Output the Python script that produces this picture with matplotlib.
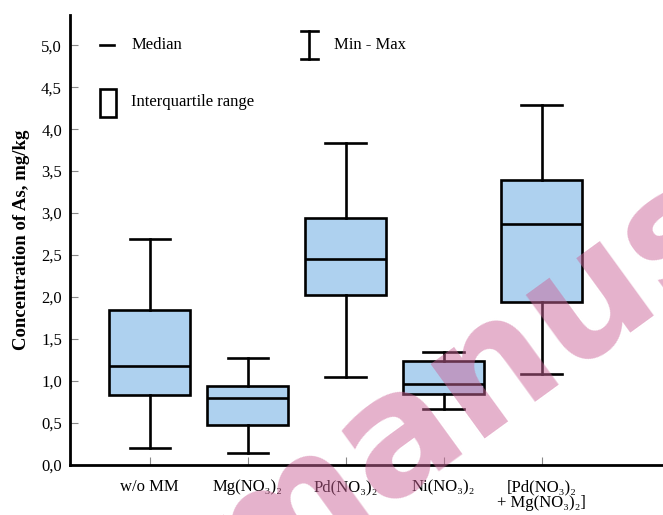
import numpy as np
import matplotlib
matplotlib.use("Agg")
from matplotlib import pyplot as plt
from matplotlib.patches import Rectangle

categories = ['w/o MM', 'Mg(NO₃)₂', 'Pd(NO₃)₂', 'Ni(NO₃)₂',
              '[Pd(NO₃)₂\n+ Mg(NO₃)₂]']
mins = [0.20, 0.14, 1.05, 0.67, 1.08]
q1 = [0.83, 0.48, 2.02, 0.85, 1.94]
medians = [1.18, 0.80, 2.45, 0.96, 2.87]
q3 = [1.85, 0.94, 2.94, 1.24, 3.40]
maxs = [2.69, 1.27, 3.83, 1.35, 4.29]
yticks = [0, 0.5, 1.0, 1.5, 2.0, 2.5, 3.0, 3.5, 4.0, 4.5, 5.0]

plt.rcParams['font.family'] = ['Liberation Serif', 'DejaVu Serif']

fig = plt.figure(figsize=(6.63, 5.15), dpi=100)
ax = fig.add_axes([0.106, 0.097, 0.894, 0.874])

stats = []
for i in range(len(categories)):
    stats.append(dict(whislo=mins[i], q1=q1[i], med=medians[i], q3=q3[i],
                      whishi=maxs[i], fliers=[]))
lw = 1.9
ax.bxp(stats, positions=np.arange(1, 6), widths=0.83, patch_artist=True,
       showfliers=False,
       boxprops=dict(facecolor='#aed1ef', edgecolor='black', linewidth=lw),
       medianprops=dict(color='black', linewidth=lw),
       whiskerprops=dict(color='black', linewidth=lw),
       capprops=dict(color='black', linewidth=lw),
       capwidths=0.41)

ax.set_xlim(0.19, 6.24)
ax.set_ylim(0, 5.36)
ax.set_xticks(np.arange(1, 6))
ax.set_xticklabels(categories, fontsize=12, linespacing=1.0)
ax.set_yticks(yticks)
ax.set_yticklabels([('%.1f' % v).replace('.', ',') for v in yticks], fontsize=12)
ax.tick_params(axis='both', direction='in', length=6, width=0.8, color='#888888')
ax.tick_params(axis='x', pad=10)
ax.tick_params(axis='y', pad=6)
for s in ['top', 'right']:
    ax.spines[s].set_visible(False)
for s in ['left', 'bottom']:
    ax.spines[s].set_linewidth(2.0)
ax.set_ylabel('Concentration of As, mg/kg', fontsize=13.5, fontweight='bold', labelpad=8)

# legend drawn by hand
ax.plot([0.49, 0.64], [5.0, 5.0], color='black', lw=lw)
ax.text(0.81, 5.0, 'Median', fontsize=12, va='center')
ax.plot([2.63, 2.63], [4.83, 5.17], color='black', lw=lw)
ax.plot([2.55, 2.72], [5.17, 5.17], color='black', lw=lw)
ax.plot([2.55, 2.72], [4.83, 4.83], color='black', lw=lw)
ax.text(2.88, 5.0, 'Min - Max', fontsize=12, va='center')
ax.add_patch(Rectangle((0.49, 4.15), 0.17, 0.33, fill=False, edgecolor='black', lw=lw))
ax.text(0.81, 4.32, 'Interquartile range', fontsize=12, va='center')

# watermark
fig.text(0.70, 0.25, 'manus', fontsize=120, fontweight='bold', family='DejaVu Sans',
         color='#cc6699', alpha=0.5, rotation=36, ha='center', va='center', zorder=10)

fig.savefig('out.png', dpi=100)
